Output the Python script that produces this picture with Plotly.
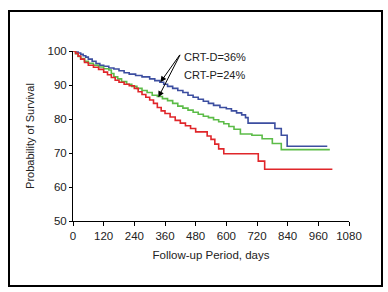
import plotly.graph_objects as go

# CRT-D (blue)
days_d = [0, 10, 20, 30, 40, 50, 60, 75, 90, 105, 120, 140, 160, 180, 200, 220, 245, 270, 300, 320, 340, 355, 370, 390, 410, 430, 450, 470, 490, 510, 530, 550, 575, 600, 620, 640, 660, 675, 685, 790, 815, 838, 995]
surv_d = [100, 99.7, 99.4, 99.0, 98.6, 98.2, 97.6, 97.0, 96.3, 95.8, 95.5, 95.0, 94.7, 94.2, 93.6, 93.2, 92.8, 92.4, 91.8, 91.3, 90.8, 90.2, 89.6, 89.0, 88.4, 87.8, 87.0, 86.4, 85.8, 85.2, 84.6, 84.0, 83.4, 83.0, 82.4, 81.8, 81.2, 80.4, 78.8, 77.2, 75.2, 72.0, 72.0]

# CRT-P (green)
days_p = [0, 10, 20, 30, 45, 60, 80, 100, 120, 140, 150, 160, 175, 190, 210, 230, 250, 270, 290, 310, 330, 350, 370, 390, 410, 430, 450, 470, 490, 510, 530, 550, 570, 590, 610, 630, 655, 700, 740, 780, 815, 1005]
surv_p = [100, 99.2, 98.4, 97.8, 97.0, 96.4, 95.8, 95.3, 94.8, 94.4, 93.4, 92.4, 91.8, 91.0, 90.2, 89.6, 89.0, 88.4, 87.8, 87.0, 86.6, 86.0, 85.4, 84.6, 83.8, 83.2, 82.6, 82.0, 81.4, 80.8, 80.4, 79.8, 79.2, 78.6, 77.8, 77.0, 75.6, 75.2, 74.2, 72.8, 71.0, 71.0]

# Third group (red)
days_r = [0, 10, 20, 30, 45, 60, 80, 100, 120, 135, 150, 165, 180, 200, 220, 240, 255, 270, 285, 300, 315, 330, 345, 360, 380, 400, 420, 440, 460, 480, 525, 540, 555, 570, 590, 725, 750, 1015]
surv_r = [100, 99.3, 98.5, 97.6, 96.6, 95.8, 95.2, 94.6, 93.8, 93.0, 92.2, 91.4, 90.8, 90.2, 89.8, 89.0, 88.0, 87.2, 86.4, 85.6, 84.6, 83.4, 82.4, 81.6, 80.6, 79.6, 78.8, 78.0, 77.2, 76.2, 75.0, 74.0, 72.6, 71.2, 69.8, 67.6, 65.2, 65.2]

x_ticks = [0, 120, 240, 360, 480, 600, 720, 840, 960, 1080]
y_ticks = [50, 60, 70, 80, 90, 100]

FONT = "Liberation Sans Narrow, Liberation Sans, Arial, sans-serif"

fig = go.Figure()
for xs, ys, col in [(days_d, surv_d, "#3c4ea0"), (days_p, surv_p, "#5cbc48"), (days_r, surv_r, "#e0262a")]:
    fig.add_trace(go.Scatter(x=xs, y=ys, mode="lines", line=dict(color=col, width=1.6, shape="hv"),
                             showlegend=False, hoverinfo="skip"))

fig.update_layout(
    width=388, height=292,
    margin=dict(l=73, r=39, t=51, b=71, autoexpand=False),
    paper_bgcolor="white", plot_bgcolor="white",
    font=dict(family=FONT, size=12, color="#222"),
    xaxis=dict(range=[0, 1080], tickvals=x_ticks, ticktext=[str(v) for v in x_ticks],
               showgrid=False, zeroline=False, showline=True, linecolor="black", linewidth=1,
               ticks="outside", ticklen=4, tickcolor="black", tickfont=dict(size=11.5),
               title=dict(text="Follow-up Period, days", standoff=10, font=dict(size=11.5))),
    yaxis=dict(range=[50, 100], tickvals=y_ticks, ticktext=[str(v) for v in y_ticks],
               showgrid=False, zeroline=False, showline=True, linecolor="black", linewidth=1,
               ticks="outside", ticklen=3, tickcolor="black", tickfont=dict(size=11.5),
               title=dict(text="Probability of Survival", standoff=10, font=dict(size=11))),
)

# Border frame
fig.add_shape(type="rect", xref="paper", yref="paper",
              x0=(9 - 73) / 276, x1=(382 - 73) / 276,
              y0=(221 - 286) / 170, y1=(221 - 11) / 170,
              line=dict(color="black", width=2))

# Annotations
fig.add_annotation(x=428, y=98.2, xref="x", yref="y", text="CRT-D=36%", showarrow=False,
                   xanchor="left", font=dict(size=11))
fig.add_annotation(x=428, y=92.9, xref="x", yref="y", text="CRT-P=24%", showarrow=False,
                   xanchor="left", font=dict(size=11))
for hx, hy in [(342, 90.8), (334, 86.4)]:
    fig.add_annotation(x=hx, y=hy, xref="x", yref="y", ax=422, ay=99.3, axref="x", ayref="y",
                       text="", showarrow=True, arrowhead=2, arrowsize=1.2, arrowwidth=1, arrowcolor="black")

fig.write_html("out.html", config={"displayModeBar": False},
               post_script="document.body.style.margin='0';document.body.style.overflow='hidden';")
